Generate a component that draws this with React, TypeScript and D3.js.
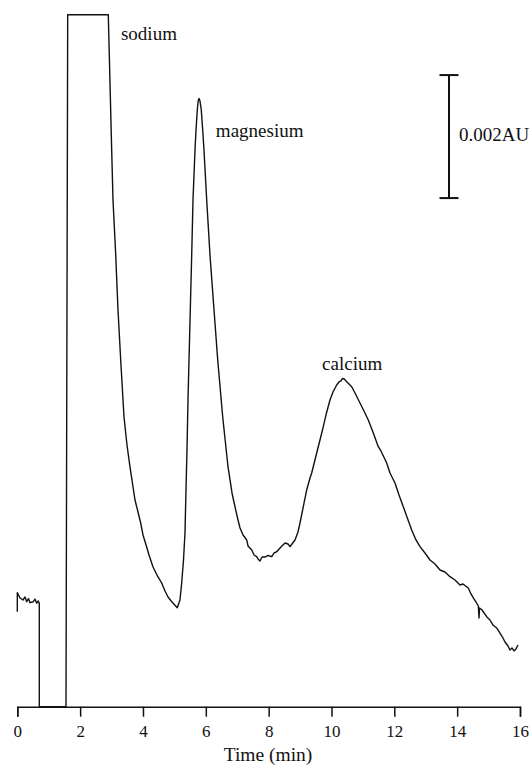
import React, { useEffect, useRef } from "react";
import * as d3 from "d3";

// Retention time (min)
const times: number[] = [
  0, 0, 0.086, 0.181, 0.245, 0.299, 0.356, 0.404, 0.509, 0.563, 0.617, 0.659, 0.7,
  0.7, 1.55, 1.604, 2.896,
  3.004, 3.046, 3.132, 3.205, 3.291, 3.396, 3.491, 3.587, 3.746, 3.826, 3.927, 4.001,
  4.118, 4.192, 4.32, 4.446, 4.596, 4.701, 4.796, 4.924, 5.092,
  5.178, 5.232, 5.29, 5.337, 5.369, 5.401, 5.433, 5.465, 5.506, 5.551, 5.592, 5.656,
  5.688, 5.729, 5.757, 5.783, 5.815, 5.856, 5.901, 5.942, 6.028, 6.133, 6.261, 6.379,
  6.538, 6.707, 6.834, 6.93, 7.025, 7.089, 7.185, 7.302, 7.344, 7.462, 7.535, 7.619,
  7.661, 7.725, 7.789, 7.884, 7.98, 8.097, 8.171, 8.257, 8.362, 8.457, 8.521, 8.616,
  8.68, 8.743, 8.839, 8.934, 8.998, 9.103, 9.211, 9.316, 9.37, 9.529, 9.634, 9.739,
  9.841, 9.952, 10.048, 10.165, 10.239, 10.302, 10.35, 10.408, 10.462, 10.526, 10.643,
  10.748, 10.907, 11.034, 11.171, 11.32, 11.489, 11.575, 11.757, 11.862, 12.021, 12.149,
  12.285, 12.403, 12.553, 12.689, 12.817, 12.976, 13.135, 13.294, 13.454, 13.613, 13.772,
  13.931, 14.09, 14.186, 14.354, 14.44, 14.519, 14.601, 14.674, 14.696, 14.712, 14.792,
  14.939, 15.045, 15.14, 15.258, 15.363, 15.459, 15.522, 15.618, 15.681, 15.745, 15.809,
  15.872, 15.936,
];

// Absorbance (mAU above the drawn baseline)
const absorbance: number[] = [
  1.545, 1.854, 1.767, 1.735, 1.784, 1.707, 1.759, 1.691, 1.707, 1.751, 1.681, 1.719, 1.686,
  0, 0, 11.25, 11.25,
  9.052, 8.239, 7.345, 6.45, 5.637, 4.711, 4.255, 3.898, 3.361, 3.198, 2.987, 2.792,
  2.597, 2.467, 2.272, 2.141, 2.011, 1.881, 1.784, 1.702, 1.61,
  1.735, 2.011, 2.385, 2.824, 3.524, 4.174, 4.987, 5.637, 6.45, 7.345, 8.239, 9.052,
  9.377, 9.702, 9.848, 9.889, 9.848, 9.702, 9.377, 9.052, 8.239, 7.345, 6.45, 5.637,
  4.711, 3.898, 3.475, 3.247, 3.036, 2.906, 2.792, 2.711, 2.613, 2.548, 2.467, 2.439,
  2.402, 2.369, 2.434, 2.434, 2.459, 2.439, 2.499, 2.52, 2.58, 2.629, 2.662, 2.646,
  2.602, 2.646, 2.711, 2.841, 2.987, 3.252, 3.524, 3.719, 3.8, 4.125, 4.337, 4.553,
  4.776, 4.987, 5.117, 5.231, 5.28, 5.296, 5.337, 5.328, 5.296, 5.263, 5.203,
  5.101, 4.938, 4.808, 4.662, 4.467, 4.228, 4.158, 3.963, 3.8, 3.638, 3.442,
  3.252, 3.085, 2.873, 2.711, 2.602, 2.499, 2.385, 2.32, 2.223, 2.19, 2.114,
  2.06, 1.979, 1.995, 1.93, 1.833, 1.767, 1.702, 1.637, 1.442, 1.605, 1.572,
  1.463, 1.41, 1.328, 1.28, 1.198, 1.117, 1.052, 0.987, 0.922, 0.955, 0.906,
  0.938, 1.003,
];

const xTicks: number[] = [0, 2, 4, 6, 8, 10, 12, 14, 16];

const peakLabels: string[] = ["sodium", "magnesium", "calcium"];
const peakLabelTimes: number[] = [3.3, 6.32, 9.7];
const peakLabelValues: number[] = [10.84, 9.26, 5.474];

const scaleBarTime = 13.74;
const scaleBarRange: number[] = [8.27, 10.27];
const scaleBarLabel = "0.002AU";
const xLabel = "Time (min)";

const W = 532;
const H = 767;
const FONT = "Liberation Serif, DejaVu Serif, serif";

export default function App() {
  const axisRef = useRef<SVGGElement>(null);

  const x = d3.scaleLinear().domain([0, 16]).range([17.3, 520]);
  const y = d3.scaleLinear().domain([0, 11.25]).range([706.7, 14.8]);

  useEffect(() => {
    if (!axisRef.current) return;
    const g = d3.select(axisRef.current);
    g.selectAll("*").remove();
    g.call(
      d3
        .axisBottom(x)
        .tickValues(xTicks)
        .tickSize(10)
        .tickSizeOuter(10)
        .tickPadding(8)
        .tickFormat((d) => String(d))
    );
    g.attr("font-family", null).attr("font-size", null);
    g.select(".domain").attr("stroke", "#111").attr("stroke-width", 1.5);
    g.selectAll(".tick line").attr("stroke", "#111").attr("stroke-width", 1.5);
    g.selectAll(".tick text")
      .attr("fill", "#111")
      .style("font-family", FONT)
      .style("font-size", "17px");
  }, []);

  const pts: [number, number][] = times.map((t, i) => [t, absorbance[i]]);
  const line = d3
    .line<[number, number]>()
    .x((d) => x(d[0]))
    .y((d) => y(d[1]));

  const sbx = x(scaleBarTime);
  const sbTop = y(scaleBarRange[1]);
  const sbBot = y(scaleBarRange[0]);

  const textStyle = { fontFamily: FONT, fontSize: "19px", fill: "#111" } as React.CSSProperties;

  return (
    <svg
      width={W}
      height={H}
      style={{ position: "absolute", left: 0, top: 0, background: "#fff" }}
    >
      <path d={line(pts) || ""} fill="none" stroke="#111" strokeWidth={1.4} strokeLinejoin="round" />
      <g ref={axisRef} transform={`translate(0,${y(0)})`} />
      {peakLabels.map((lab, i) => (
        <text key={lab} x={x(peakLabelTimes[i])} y={y(peakLabelValues[i])} style={textStyle}>
          {lab}
        </text>
      ))}
      <g stroke="#111" strokeWidth={2}>
        <line x1={sbx} x2={sbx} y1={sbTop} y2={sbBot} />
        <line x1={sbx - 9.5} x2={sbx + 9.5} y1={sbTop} y2={sbTop} />
        <line x1={sbx - 9.5} x2={sbx + 9.5} y1={sbBot} y2={sbBot} />
      </g>
      <text x={sbx + 10} y={141} style={textStyle}>
        {scaleBarLabel}
      </text>
      <text x={268} y={761} textAnchor="middle" style={{ ...textStyle, fontSize: "19.5px" }}>
        {xLabel}
      </text>
    </svg>
  );
}
